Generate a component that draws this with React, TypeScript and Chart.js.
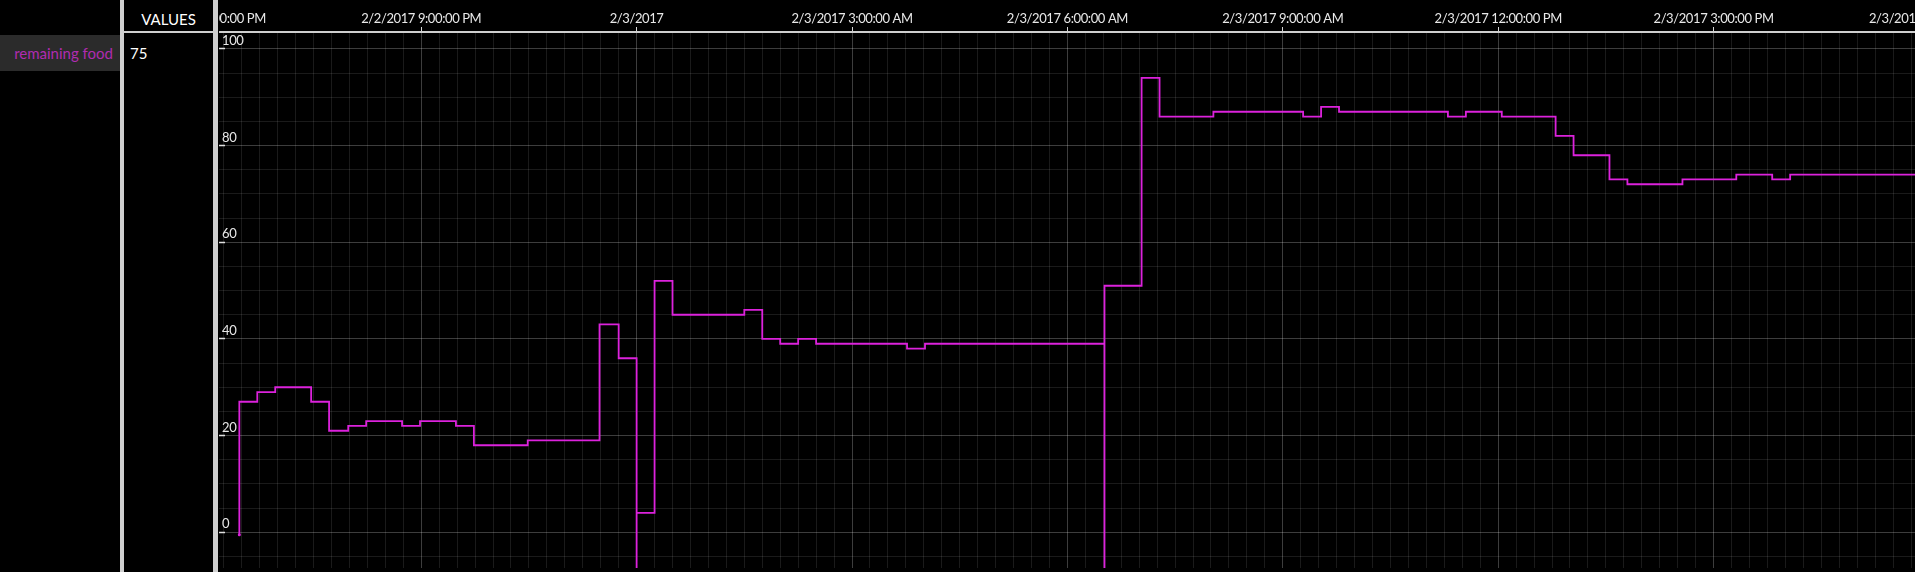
import React, { useEffect, useRef } from 'react';
import { Chart, registerables } from 'chart.js';

Chart.register(...registerables);

// minutes relative to 2/3/2017 00:00
const sampleMinutes = [-332, -332, -317, -302, -272, -257, -241, -226, -196, -181, -151, -136, -91, -31, -15, 0, 0, 15, 30, 90, 105, 120, 135, 150, 226, 241, 391, 391, 422, 437, 482, 557, 572, 587, 678, 693, 723, 768, 783, 813, 828, 874, 919, 949, 964, 1070];
const remainingFood = [-0.5, 27, 29, 30, 27, 21, 22, 23, 22, 23, 22, 18, 19, 43, 36, -20, 4, 52, 45, 46, 40, 39, 40, 39, 38, 39, -20, 51, 94, 86, 87, 86, 88, 87, 86, 87, 86, 82, 78, 73, 72, 73, 74, 73, 74, 74];

const xTickMinutes = [-360, -180, 0, 180, 360, 540, 720, 900, 1080];
const xTickLabels = [
  '2/2/2017 6:00:00 PM',
  '2/2/2017 9:00:00 PM',
  '2/3/2017',
  '2/3/2017 3:00:00 AM',
  '2/3/2017 6:00:00 AM',
  '2/3/2017 9:00:00 AM',
  '2/3/2017 12:00:00 PM',
  '2/3/2017 3:00:00 PM',
  '2/3/2017 6:00:00 PM',
];
const yTickValues = [0, 20, 40, 60, 80, 100];

const seriesName = 'remaining food';
const currentValue = '75';

const X_MIN = -349;
const X_MAX = 1219.6;
const Y_MIN = -7.4;
const Y_MAX = 103.5;

const LINE = '#dc22dc';
const GRID_MINOR = 'rgba(255,255,255,0.10)';
const GRID_MAJOR = 'rgba(255,255,255,0.24)';
const BAR = '#cfcfcf';
const FONT = 'Lato, "Open Sans", sans-serif';

const tightText = {
  id: 'tightText',
  beforeDraw(chart: any) {
    try {
      chart.ctx.letterSpacing = '-0.4px';
    } catch (e) {
      /* ignore */
    }
  },
};

export default function App() {
  const ref = useRef<HTMLCanvasElement | null>(null);

  useEffect(() => {
    if (!ref.current) return;
    const points = sampleMinutes.map((m, i) => ({ x: m, y: remainingFood[i] }));
    const chart = new Chart(ref.current, {
      type: 'line',
      data: {
        datasets: [
          {
            label: seriesName,
            data: points,
            stepped: true,
            borderColor: LINE,
            backgroundColor: LINE,
            borderWidth: 1.8,
            pointRadius: (c: any) => (c.dataIndex === 0 ? 1.5 : 0),
            pointBorderWidth: 0,
            fill: false,
          },
        ],
      },
      plugins: [tightText],
      options: {
        animation: false,
        responsive: false,
        devicePixelRatio: 1,
        layout: { padding: { left: 219, top: 0, right: 0, bottom: 0 } },
        plugins: { legend: { display: false }, tooltip: { enabled: false } },
        scales: {
          x: {
            type: 'linear',
            position: 'top',
            min: X_MIN,
            max: X_MAX,
            afterBuildTicks: (scale: any) => {
              const t: any[] = [];
              for (let v = xTickMinutes[0]; v <= X_MAX; v += 15) t.push({ value: v });
              scale.ticks = t;
            },
            afterFit: (scale: any) => {
              scale.height = 32;
              scale.paddingLeft = 0;
              scale.paddingRight = 0;
            },
            ticks: {
              autoSkip: false,
              maxRotation: 0,
              minRotation: 0,
              padding: 0,
              color: '#e8e8e8',
              font: { family: FONT, size: 13 },
              callback: (v: any) => {
                const i = xTickMinutes.indexOf(Number(v));
                return i >= 0 ? xTickLabels[i] : '';
              },
            },
            grid: {
              color: (c: any) => (c.tick && xTickMinutes.includes(c.tick.value) ? GRID_MAJOR : GRID_MINOR),
              tickColor: (c: any) => (c.tick && xTickMinutes.includes(c.tick.value) ? '#d8d8d8' : 'rgba(0,0,0,0)'),
              tickLength: 5,
              lineWidth: 1,
            },
            border: { display: true, color: BAR, width: 2 },
          },
          y: {
            type: 'linear',
            min: Y_MIN,
            max: Y_MAX,
            afterBuildTicks: (scale: any) => {
              const t: any[] = [];
              for (let v = -5; v <= 100; v += 5) t.push({ value: v });
              scale.ticks = t;
            },
            afterFit: (scale: any) => {
              scale.width = 0;
              scale.paddingTop = 0;
              scale.paddingBottom = 0;
            },
            ticks: {
              mirror: true,
              padding: 3,
              labelOffset: -8,
              color: '#e8e8e8',
              font: { family: FONT, size: 13 },
              callback: (v: any) => (yTickValues.includes(Number(v)) ? String(v) : ''),
            },
            grid: {
              color: (c: any) => (c.tick && c.tick.value % 20 === 0 ? GRID_MAJOR : GRID_MINOR),
              tickColor: (c: any) => (c.tick && c.tick.value % 20 === 0 ? '#e0e0e0' : 'rgba(0,0,0,0)'),
              tickLength: -6,
              tickWidth: 1.5,
              lineWidth: 1,
            },
            border: { display: false },
          },
        },
      } as any,
    });
    return () => chart.destroy();
  }, []);

  const abs = (s: React.CSSProperties): React.CSSProperties => ({ position: 'absolute', ...s });

  return (
    <div
      style={{
        position: 'fixed',
        left: 0,
        top: 0,
        width: 1915,
        height: 572,
        overflow: 'hidden',
        background: '#000',
        fontFamily: FONT,
      }}
    >
      <canvas ref={ref} width={2100} height={572} style={abs({ left: 0, top: 0, width: 2100, height: 572 })} />
      <div style={abs({ left: 0, top: 0, width: 219, height: 572, background: '#000' })}>
        <div
          style={abs({
            left: 0,
            top: 35,
            width: 120,
            height: 36,
            background: '#2b2b2b',
            color: '#b02cb0',
            fontSize: 15,
            lineHeight: '36px',
            textAlign: 'right',
            boxSizing: 'border-box',
            paddingRight: 7,
            whiteSpace: 'nowrap',
          })}
        >
          {seriesName}
        </div>
        <div style={abs({ left: 120, top: 0, width: 4, height: 572, background: BAR })} />
        <div
          style={abs({
            left: 124,
            top: 10,
            width: 89,
            textAlign: 'center',
            color: '#fff',
            fontSize: 15,
            lineHeight: '18px',
          })}
        >
          VALUES
        </div>
        <div style={abs({ left: 124, top: 31, width: 89, height: 2, background: BAR })} />
        <div style={abs({ left: 130, top: 44, color: '#fff', fontSize: 15, lineHeight: '18px' })}>{currentValue}</div>
        <div style={abs({ left: 213, top: 0, width: 5, height: 572, background: BAR })} />
      </div>
    </div>
  );
}
